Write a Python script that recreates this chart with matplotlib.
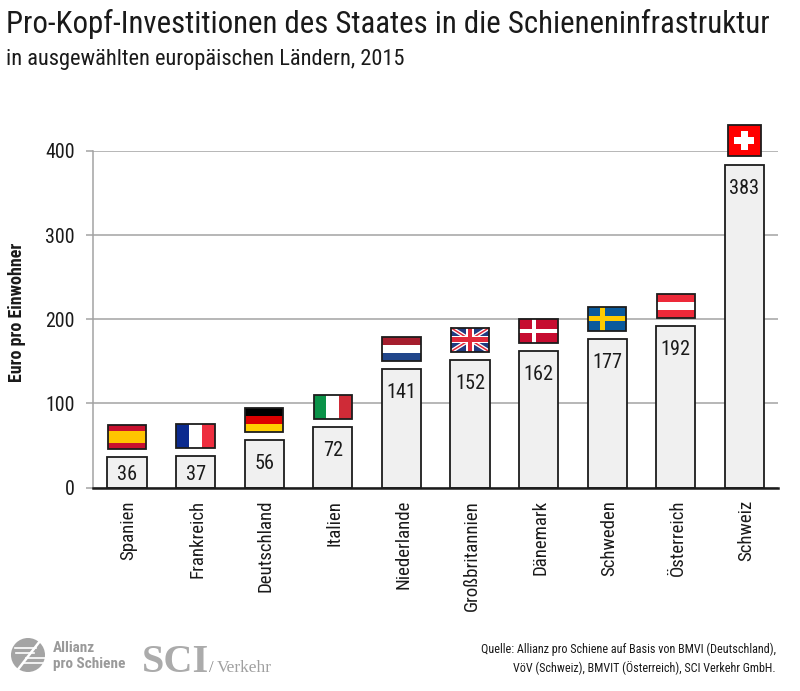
import matplotlib
matplotlib.use("Agg")
import matplotlib.pyplot as plt
from matplotlib import font_manager as fm
from matplotlib.patches import Rectangle, Circle
from matplotlib.transforms import Affine2D, ScaledTranslation

countries = ["Spanien", "Frankreich", "Deutschland", "Italien", "Niederlande",
             "Großbritannien", "Dänemark", "Schweden", "Österreich", "Schweiz"]
values = [36, 37, 56, 72, 141, 152, 162, 177, 192, 383]
yticks = [0, 100, 200, 300, 400]
title = "Pro-Kopf-Investitionen des Staates in die Schieneninfrastruktur"
subtitle = "in ausgewählten europäischen Ländern, 2015"
ylabel = "Euro pro Einwohner"
source = ["Quelle: Allianz pro Schiene auf Basis von BMVI (Deutschland),",
          "VöV (Schweiz), BMVIT (Österreich), SCI Verkehr GmbH."]

names = {f.name for f in fm.fontManager.ttflist}
narrow = next((n for n in ("Roboto Condensed", "Liberation Sans Narrow", "Sofia Sans Condensed", "Roboto") if n in names))
plt.rcParams["font.family"] = [narrow, "DejaVu Sans"]

W, H = 800, 691
fig = plt.figure(figsize=(W / 100, H / 100), dpi=100, facecolor="white")
ax = fig.add_axes([93 / W, 1 - 487.5 / H, 685 / W, 336.5 / H])

x = list(range(len(values)))
ax.set_axisbelow(True)
ax.bar(x, values, width=0.57, facecolor="#f0f0f0", edgecolor="#1c1c1c", linewidth=1.3, zorder=3)
ax.set_xlim(-0.496, 9.49)
ax.set_ylim(0, 400)
ax.set_yticks(yticks)
ax.yaxis.grid(True, color="#a3a3a3", linewidth=1.1)
ax.xaxis.grid(False)
for s in ("top", "right"):
    ax.spines[s].set_visible(False)
ax.spines["left"].set_color("#a3a3a3")
ax.spines["left"].set_linewidth(1.1)
ax.spines["bottom"].set_color("#1c1c1c")
ax.spines["bottom"].set_linewidth(1.8)
ax.spines["bottom"].set_zorder(5)
ax.tick_params(axis="y", length=5, width=1.1, color="#a3a3a3", labelsize=14.3, pad=8, labelcolor="#1a1a1a")
ax.set_xticks(x)
ax.set_xticklabels(countries, rotation=90, fontsize=13.6, color="#1a1a1a")
ax.tick_params(axis="x", length=0, pad=9)
for lab in ax.get_xticklabels():
    lab.set_transform(lab.get_transform() + ScaledTranslation(1.2 / 72, 0, fig.dpi_scale_trans))

for xi, v in zip(x, values):
    ypos = v / 2 - 3 if v < 50 else v - 28
    ax.text(xi, ypos, str(v), ha="center", va="center", fontsize=14.6, color="#1a1a1a", zorder=6)


def flag_transform(xi, v, square=False):
    # unit square of a flag, placed just above the bar top
    w, h, gap = (0.47, 37, 11) if square else (0.56, 28.5, 9.5)
    return Affine2D().scale(w, h).translate(xi - w / 2, v + gap) + ax.transData


def hbands(tr, cols, fracs=None):
    fracs = fracs or [1 / len(cols)] * len(cols)
    top = 1.0
    for c, f in zip(cols, fracs):
        ax.add_patch(Rectangle((0, top - f), 1, f, fc=c, ec="none", transform=tr, zorder=7, clip_on=False))
        top -= f


def vbands(tr, cols):
    for i, c in enumerate(cols):
        ax.add_patch(Rectangle((i / 3, 0), 1 / 3, 1, fc=c, ec="none", transform=tr, zorder=7, clip_on=False))


def cross(tr, c, cx, cy, t_w, t_h, x0=0, x1=1, y0=0, y1=1):
    ax.add_patch(Rectangle((cx - t_w / 2, y0), t_w, y1 - y0, fc=c, ec="none", transform=tr, zorder=8, clip_on=False))
    ax.add_patch(Rectangle((x0, cy - t_h / 2), x1 - x0, t_h, fc=c, ec="none", transform=tr, zorder=8, clip_on=False))


def draw_flag(name, tr):
    if name == "Spanien":
        hbands(tr, ["#c8102e", "#ffc400", "#c8102e"], [0.25, 0.5, 0.25])
    elif name == "Frankreich":
        vbands(tr, ["#0b2a8f", "#ffffff", "#ee2e3f"])
    elif name == "Deutschland":
        hbands(tr, ["#000000", "#dd0000", "#ffce00"])
    elif name == "Italien":
        vbands(tr, ["#0a9248", "#ffffff", "#cf2b37"])
    elif name == "Niederlande":
        hbands(tr, ["#a51e2e", "#ffffff", "#21468b"])
    elif name == "Großbritannien":
        hbands(tr, ["#1f3a80"])
        for pts, c, lw in ((((0, 0), (1, 1)), "white", 3.0), (((0, 1), (1, 0)), "white", 3.0),
                           (((0, 0), (1, 1)), "#e0283a", 1.1), (((0, 1), (1, 0)), "#e0283a", 1.1)):
            ax.plot(*zip(*pts), color=c, lw=lw, transform=tr, zorder=8, clip_on=False, solid_capstyle="butt")
        cross(tr, "white", 0.5, 0.5, 0.2, 0.32)
        cross(tr, "#e0283a", 0.5, 0.5, 0.11, 0.18)
    elif name == "Dänemark":
        hbands(tr, ["#c60c30"])
        cross(tr, "white", 0.38, 0.5, 0.11, 0.16)
    elif name == "Schweden":
        hbands(tr, ["#0a5a9c"])
        cross(tr, "#fecc00", 0.38, 0.5, 0.13, 0.18)
    elif name == "Österreich":
        hbands(tr, ["#ed2939", "#ffffff", "#ed2939"])
    elif name == "Schweiz":
        hbands(tr, ["#ff0000"])
        cross(tr, "white", 0.5, 0.5, 0.22, 0.22, 0.19, 0.81, 0.19, 0.81)
    ax.add_patch(Rectangle((0, 0), 1, 1, fc="none", ec="#1c1c1c", lw=1.3, transform=tr, zorder=9, clip_on=False))


for xi, v, name in zip(x, values, countries):
    draw_flag(name, flag_transform(xi, v, square=name == "Schweiz"))


def T(px, py, s, **kw):
    fig.text(px / W, 1 - py / H, s, **kw)


T(6, 24, title, fontsize=22.25, color="#1a1a1a", va="center", ha="left")
T(6, 59, subtitle, fontsize=16.1, color="#1a1a1a", va="center", ha="left")
T(17, 312, ylabel, fontsize=13, fontweight="bold", rotation=90, va="center", ha="center", color="#1a1a1a")
T(776, 649, source[0], fontsize=8.75, ha="right", va="center", color="#1a1a1a")
T(776, 668, source[1], fontsize=8.75, ha="right", va="center", color="#1a1a1a")

# Logos in grey
grey = "#9a9a9a"
T(53, 648, "Allianz", fontsize=11, fontweight="bold", color=grey, va="center", ha="left")
T(53, 664, "pro Schiene", fontsize=11, fontweight="bold", color=grey, va="center", ha="left")
T(142, 672, "SCI", fontsize=29, family="Liberation Serif", fontweight="bold", color="#ababab", va="baseline", ha="left")
T(209, 672, "/", fontsize=12, family="Liberation Serif", color="#8a8a8a", va="baseline", ha="left")
T(217, 672, "Verkehr", fontsize=12.5, family="Liberation Serif", color="#a0a0a0", va="baseline", ha="left")

overlay = fig.add_axes([0, 0, 1, 1], facecolor="none")
overlay.set_xlim(0, W)
overlay.set_ylim(H, 0)
overlay.axis("off")
overlay.add_patch(Circle((28, 655), 17, fc="#a4a4a4", ec="none"))
for yy, x0, x1 in ((648, 15, 36), (653, 16, 34), (658, 26, 45), (663, 24, 43)):
    overlay.plot([x0, x1], [yy, yy], color="white", lw=1.2)
overlay.plot([16, 40], [672, 641], color="white", lw=1.8)

fig.savefig("out.png", dpi=100, facecolor="white")
